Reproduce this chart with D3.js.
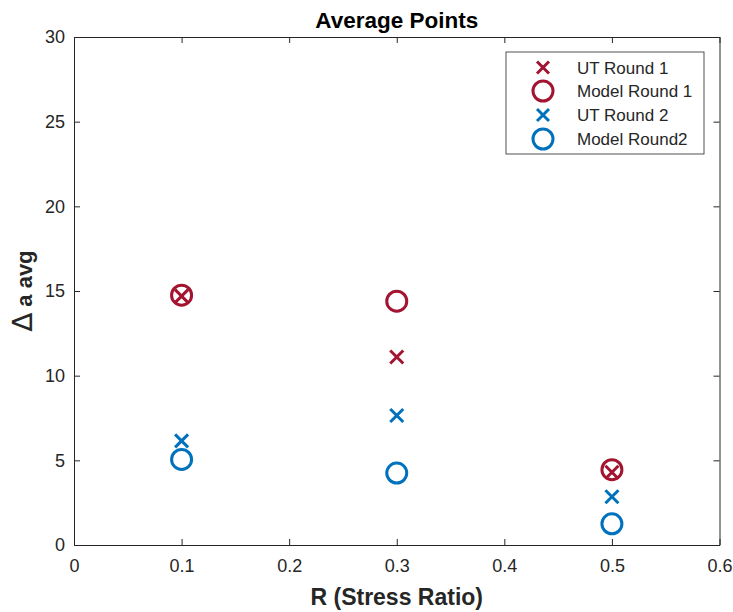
<!DOCTYPE html>
<html><head><meta charset="utf-8">
<script src="https://cdn.jsdelivr.net/npm/d3@7"></script>
<style>body{margin:0;background:#fff;} text{font-family:"Liberation Sans",Arial,Helvetica,sans-serif;}</style>
</head><body>
<svg id="c" width="733" height="612"></svg>
<script>
const xCats = [0.1, 0.3, 0.5];
const utRound1 = [14.7, 11.1, 4.3];
const modelRound1 = [14.75, 14.4, 4.45];
const utRound2 = [6.15, 7.65, 2.85];
const modelRound2 = [5.05, 4.25, 1.25];
const xTicks = [0, 0.1, 0.2, 0.3, 0.4, 0.5, 0.6];
const yTicks = [0, 5, 10, 15, 20, 25, 30];
const seriesNames = ["UT Round 1", "Model Round 1", "UT Round 2", "Model Round2"];

const red = "#A2142F", blue = "#0072BD", axisCol = "#262626";
const svg = d3.select("#c");
const L = 74, R = 719.5, T = 37, B = 545;
const x = d3.scaleLinear().domain([0, 0.6]).range([L, R]);
const y = d3.scaleLinear().domain([0, 30]).range([B, T]);

const g = svg.append("g");
const ax = (gen, tr) => {
  const a = g.append("g").attr("transform", tr).call(gen);
  a.select(".domain").attr("stroke", axisCol).attr("stroke-width", 1);
  a.selectAll(".tick line").attr("stroke", axisCol);
  a.selectAll("text").attr("fill", axisCol).style("font-size", "18px").style("font-family", "'Liberation Sans',Arial,sans-serif");
  return a;
};
ax(d3.axisBottom(x).tickValues(xTicks).tickSizeInner(-6).tickSizeOuter(0).tickPadding(14).tickFormat(d => d === 0 ? "0" : d3.format(".1f")(d)), `translate(0,${B})`);
ax(d3.axisTop(x).tickValues(xTicks).tickSizeInner(-6).tickSizeOuter(0).tickFormat(""), `translate(0,${T})`);
ax(d3.axisLeft(y).tickValues(yTicks).tickSizeInner(-6).tickSizeOuter(0).tickPadding(9), `translate(${L},0)`);
ax(d3.axisRight(y).tickValues(yTicks).tickSizeInner(-6).tickSizeOuter(0).tickFormat(""), `translate(${R},0)`);

function cross(sel, cx, cy, col, s) {
  sel.append("path").attr("d", `M${cx-s},${cy-s}L${cx+s},${cy+s}M${cx-s},${cy+s}L${cx+s},${cy-s}`)
    .attr("stroke", col).attr("stroke-width", 3).attr("fill", "none");
}
function circ(sel, cx, cy, col) {
  sel.append("circle").attr("cx", cx).attr("cy", cy).attr("r", 10)
    .attr("stroke", col).attr("stroke-width", 3).attr("fill", "none");
}
const pts = g.append("g");
xCats.forEach((v, i) => {
  cross(pts, x(v), y(utRound1[i]), red, 6.5);
  circ(pts, x(v), y(modelRound1[i]), red);
  cross(pts, x(v), y(utRound2[i]), blue, 6.5);
  circ(pts, x(v), y(modelRound2[i]), blue);
});

const lg = g.append("g");
lg.append("rect").attr("x", 506).attr("y", 52).attr("width", 198).attr("height", 102)
  .attr("fill", "#fff").attr("stroke", axisCol).attr("stroke-width", 0.8);
const ly = [67.5, 91, 115, 139];
const lcols = [red, red, blue, blue];
seriesNames.forEach((n, i) => {
  if (i % 2 === 0) cross(lg, 543, ly[i], lcols[i], 6);
  else circ(lg, 543, ly[i], lcols[i]);
  lg.append("text").attr("x", 577).attr("y", ly[i]).attr("dy", "0.36em")
    .attr("fill", axisCol).style("font-size", "17px").text(n);
});

svg.append("text").attr("x", (L + R) / 2).attr("y", 28).attr("text-anchor", "middle")
  .style("font-size", "22.5px").style("font-weight", "bold").attr("fill", "#000").text("Average Points");
svg.append("text").attr("x", (L + R) / 2).attr("y", 605).attr("text-anchor", "middle")
  .style("font-size", "23px").style("font-weight", "bold").attr("fill", axisCol).text("R (Stress Ratio)");
const yl = svg.append("text").attr("transform", `translate(32,${(T + B) / 2}) rotate(-90)`).attr("text-anchor", "middle")
  .style("font-size", "22px").style("font-weight", "bold").attr("fill", axisCol);
yl.append("tspan").style("font-weight", "normal").style("font-size", "28px").style("font-family", "'DejaVu Sans',sans-serif").text("∆");
yl.append("tspan").text(" a avg");
</script>
</body></html>
